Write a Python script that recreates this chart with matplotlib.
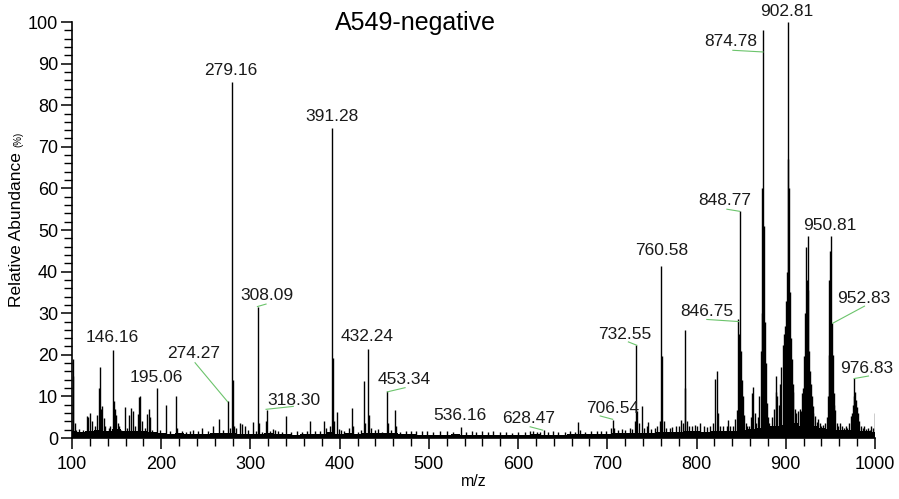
import numpy as np
import matplotlib
matplotlib.use("Agg")
import matplotlib.pyplot as plt
from matplotlib.ticker import MultipleLocator

plt.rcParams["font.family"] = ["Liberation Sans", "DejaVu Sans"]

# ---------------------------------------------------------------------------
# Spectrum data
# ---------------------------------------------------------------------------
# centroid sticks: m/z and relative abundance (%)
peak_mz = [
    100.8, 101.5, 103, 105, 108, 112, 116.5, 118, 120.5, 122.5, 126, 128.5, 129.8,
    131.5, 132.5, 134, 135.5, 137, 141, 143, 146.2, 147.2, 148.2, 149.5, 151, 153,
    155, 159.5, 162, 164, 166.5, 168.5, 171, 173.5, 174.8, 176.5, 178, 182, 184.5,
    186.5, 187.5, 190, 195.1, 199, 204.8, 210, 216.8, 218, 223, 228, 232, 236,
    241, 246, 252, 258, 264.5, 269, 274.3, 277, 279.2, 280.2, 281.5, 284, 288,
    291, 293.5, 297, 303, 306, 308.1, 309.2, 313, 317, 318.3, 322, 325, 327, 331,
    335, 339.5, 345, 352, 358, 363, 367, 372, 378, 382, 385, 389, 391.3, 392.3,
    393.5, 396.5, 399, 402, 405, 410, 413.5, 414.5, 420, 424, 427.3, 428.5,
    432.2, 433.3, 435, 440, 443.5, 447, 453.3, 454.5, 458, 461.5, 463, 468, 474,
    480, 486, 492, 498, 505, 512, 520, 527, 536.2, 542, 548, 553, 559, 566, 572,
    580, 586, 593, 600, 608, 613, 617, 621, 624, 628.5, 634, 639, 645, 652, 658,
    664, 667.5, 669, 675, 682, 688, 693, 699, 704, 706.5, 708, 712, 716, 720,
    725, 728, 730.5, 732.5, 733.6, 735, 738.6, 741, 744, 746, 749, 753, 756,
    758.5, 760.6, 761.6, 763, 766, 770, 773, 777, 780, 782.5, 784.5, 786.5,
    787.5, 789, 792, 795, 798, 801, 804, 808, 812, 815, 818, 820.8, 822.7, 824,
    826, 830, 834, 835.5, 838, 841, 843, 845, 846.8, 847.8, 848.8, 849.8, 850.8,
    852, 853.5, 855, 857, 859, 861, 862.2, 863.8, 865, 866.5, 868.5, 870.3,
    871.8, 872.8, 873.8, 874.8, 875.8, 876.8, 877.8, 878.8, 880, 881.5, 883,
    885, 887, 888.5, 889.5, 890.7, 892, 893.7, 895, 896.7, 898, 899.3, 900.3,
    901.2, 902.0, 902.8, 903.8, 904.9, 906, 906.8, 908, 908.6, 910.4, 912, 914,
    915.5, 917, 917.9, 919.5, 920.5, 921.8, 922.8, 923.8, 924.5, 925.3, 926.5,
    927.3, 928, 929, 930, 931, 932.6, 934.5, 936, 938, 940, 942, 944, 946,
    947.2, 948.2, 949, 950.0, 950.8, 951.7, 952.5, 953.5, 954.5, 955.4, 957.2,
    959, 961, 963, 965, 967, 969, 971, 972.9, 974, 975, 976.3, 976.8, 977.8,
    979, 980, 981.1, 982.5, 984, 986, 988, 990, 992, 994, 996, 998, 999.5,
]
peak_int = [
    19.0, 15.0, 3.5, 2.0, 2.2, 2.0, 5.2, 5.0, 6.0, 4.2, 3.0, 5.5, 12.0,
    17.0, 7.0, 7.8, 4.8, 3.0, 2.5, 3.0, 21.2, 9.0, 7.0, 5.5, 3.5, 3.0,
    2.0, 7.5, 2.5, 5.5, 7.2, 6.5, 3.0, 5.8, 9.8, 10.2, 4.0, 2.5, 5.8,
    7.0, 5.0, 2.0, 12.0, 2.0, 8.0, 1.8, 10.2, 2.5, 1.8, 1.5, 1.6, 2.0,
    1.8, 2.4, 1.8, 3.0, 4.5, 2.0, 9.0, 2.5, 85.5, 14.0, 3.0, 2.5, 3.5,
    3.3, 3.0, 2.0, 3.9, 1.8, 31.5, 3.5, 1.5, 4.0, 6.8, 1.8, 2.2, 2.0, 1.8,
    1.5, 5.4, 1.5, 1.8, 1.5, 1.6, 4.2, 1.8, 1.6, 4.0, 2.5, 3.0, 74.5, 19.2,
    4.0, 6.3, 2.2, 2.0, 1.8, 2.5, 7.3, 3.0, 1.5, 2.0, 13.7, 3.5,
    21.5, 5.6, 2.5, 2.0, 2.2, 1.5, 11.2, 3.5, 2.0, 6.8, 2.8, 1.5, 1.6,
    1.8, 1.7, 1.8, 1.6, 1.5, 1.8, 1.6, 1.5, 2.6, 1.4, 1.6, 1.5, 1.8, 1.4, 1.7,
    1.4, 1.5, 1.3, 1.4, 1.5, 1.8, 1.6, 1.5, 1.4, 2.0, 1.5, 1.7, 1.4, 1.5, 1.6,
    1.5, 3.8, 2.0, 1.5, 1.8, 1.6, 1.7, 1.8, 2.5, 4.4, 2.5, 2.0, 2.2, 2.0,
    2.5, 2.2, 4.0, 22.4, 6.4, 3.5, 7.8, 2.5, 2.8, 3.8, 2.2, 2.5, 2.8,
    4.0, 41.3, 19.7, 4.0, 2.5, 2.4, 2.6, 2.8, 3.0, 4.4, 3.5, 26.0,
    12.0, 4.0, 2.8, 3.0, 3.2, 2.8, 3.5, 3.0, 2.6, 3.0, 3.5, 14.1, 16.2, 6.0,
    3.0, 2.8, 3.0, 4.4, 2.8, 3.0, 4.5, 6.8, 28.5, 25.0, 54.5, 21.0, 14.0,
    10.0, 5.5, 3.5, 2.8, 3.0, 5.0, 10.8, 12.3, 6.0, 3.5, 5.0, 10.0,
    21.0, 30.0, 60.0, 98.0, 51.0, 28.0, 18.0, 8.4, 5.0, 3.6, 3.0,
    5.0, 7.0, 15.0, 11.0, 10.0, 8.0, 13.0, 17.0, 22.4, 25.0, 27.0, 33.0,
    40.0, 67.0, 100.0, 60.0, 35.0, 24.0, 19.0, 13.0, 11.0, 7.0, 6.0, 6.5,
    7.0, 6.5, 10.8, 12.0, 19.6, 30.0, 46.0, 38.0, 48.5, 35.7, 21.0,
    16.0, 13.0, 10.0, 7.6, 6.0, 5.2, 3.8, 4.5, 3.5, 3.0, 3.2, 3.5, 5.0,
    10.0, 20.0, 38.0, 45.0, 48.5, 27.7, 20.0, 10.8, 8.0, 6.8, 3.6,
    3.0, 3.5, 3.0, 2.5, 3.0, 2.5, 3.5, 5.2, 6.0, 8.0, 10.0, 14.4, 11.0,
    9.2, 7.5, 6.0, 4.0, 2.8, 2.5, 3.0, 2.2, 2.5, 2.0, 3.0, 2.5, 6.0,
]

# baseline "grass" level every 10 m/z, 100..1000
base_mz = list(range(100, 1001, 10))
base_level = [
    1.8, 1.5, 1.6, 2.0, 1.8, 2.2, 1.6, 1.8, 1.7, 1.5,
    1.2, 1.0, 1.1, 0.9, 1.0, 1.0, 1.1, 1.2, 1.3, 1.0,
    1.0, 0.9, 1.2, 1.0, 0.9, 0.8, 1.0, 0.9, 0.9, 1.5,
    1.0, 1.1, 1.0, 1.3, 1.2, 1.2, 1.3, 1.0, 0.9, 0.8,
    0.8, 0.7, 0.8, 0.9, 0.8, 0.7, 0.8, 0.7, 0.8, 0.7,
    0.7, 0.8, 0.9, 0.8, 0.7, 0.8, 0.9, 1.0, 0.9, 0.9,
    1.0, 1.1, 1.2, 1.3, 1.2, 1.3, 1.5, 1.4, 1.5, 1.6,
    1.6, 1.5, 1.7, 1.8, 1.8, 2.0, 2.2, 2.5, 2.8, 3.0,
    3.2, 3.5, 3.0, 2.8, 2.5, 2.2, 2.0, 2.0, 1.8, 1.8,
    1.5,
]

# peak annotations: label, text centre (m/z, %), optional green leader
labels = [
    ("146.16", 145.6, 24.2, None),
    ("195.06", 194.2, 14.6, None),
    ("274.27", 236.8, 20.2, [(237.9, 18.1), (274.5, 8.7)]),
    ("279.16", 278.0, 88.3, None),
    ("308.09", 318.3, 34.2, [(307.8, 31.6), (317.5, 32.2)]),
    ("318.30", 348.9, 9.1, [(317.5, 6.9), (348.0, 7.6)]),
    ("391.28", 391.5, 77.4, None),
    ("432.24", 430.7, 24.5, None),
    ("453.34", 472.0, 14.0, [(453.5, 11.1), (473.3, 12.1)]),
    ("536.16", 535.0, 5.5, None),
    ("628.47", 612.3, 4.8, [(613.5, 2.7), (627.6, 1.9)]),
    ("706.54", 706.0, 7.2, [(692.0, 5.3), (706.0, 4.5)]),
    ("732.55", 720.0, 25.0, [(723.6, 23.1), (733.0, 22.3)]),
    ("760.58", 761.0, 45.0, None),
    ("846.75", 811.5, 30.4, [(811.5, 28.5), (847.0, 28.0)]),
    ("848.77", 832.0, 57.2, [(834.0, 55.0), (848.2, 54.5)]),
    ("874.78", 838.0, 95.3, [(840.7, 93.2), (874.5, 92.8)]),
    ("902.81", 901.5, 102.6, None),
    ("950.81", 949.8, 51.2, None),
    ("952.83", 987.1, 33.6, [(952.7, 27.6), (988.2, 31.7)]),
    ("976.83", 990.8, 16.8, [(976.7, 14.3), (992.7, 14.9)]),
]

# ---------------------------------------------------------------------------
# Plot
# ---------------------------------------------------------------------------
fig = plt.figure(figsize=(8.99, 4.99), dpi=100)
ax = fig.add_axes([0.0801, 0.1222, 0.8932, 0.8337])

ax.fill_between(base_mz, base_level, step="mid", color="black", lw=0)
ax.vlines(peak_mz, 0, peak_int, colors="black", linewidth=1.0)

for txt, x, y, leader in labels:
    ax.text(x, y, txt, ha="center", va="center", fontsize=12.5,
            color="#1a1a1a", clip_on=False)
    if leader:
        xs, ys = zip(*leader)
        ax.plot(xs, ys, color="#6cc46c", lw=0.8, clip_on=False)

ax.set_xlim(100, 1000)
ax.set_ylim(0, 100)
ax.xaxis.set_major_locator(MultipleLocator(100))
ax.xaxis.set_minor_locator(MultipleLocator(20))
ax.yaxis.set_major_locator(MultipleLocator(10))
ax.yaxis.set_minor_locator(MultipleLocator(2))
ax.tick_params(which="major", length=8, width=1.1, labelsize=13, direction="out")
ax.tick_params(which="minor", length=6, width=1.0, direction="out")
ax.tick_params(axis="x", pad=5)
ax.tick_params(axis="y", pad=2)

for side in ("top", "right"):
    ax.spines[side].set_visible(False)
for side in ("left", "bottom"):
    ax.spines[side].set_linewidth(1.2)

ax.set_xlabel("m/z", fontsize=11.5, labelpad=1)
fig.text(0.018, 0.54, "Relative Abundance", rotation=90, ha="center",
         va="center", fontsize=12.5)
fig.text(0.02, 0.72, "(%)", rotation=90, ha="center", va="center", fontsize=7)
fig.text(0.462, 0.953, "A549-negative", ha="center", va="center", fontsize=18)

plt.savefig("out.png", dpi=100)
